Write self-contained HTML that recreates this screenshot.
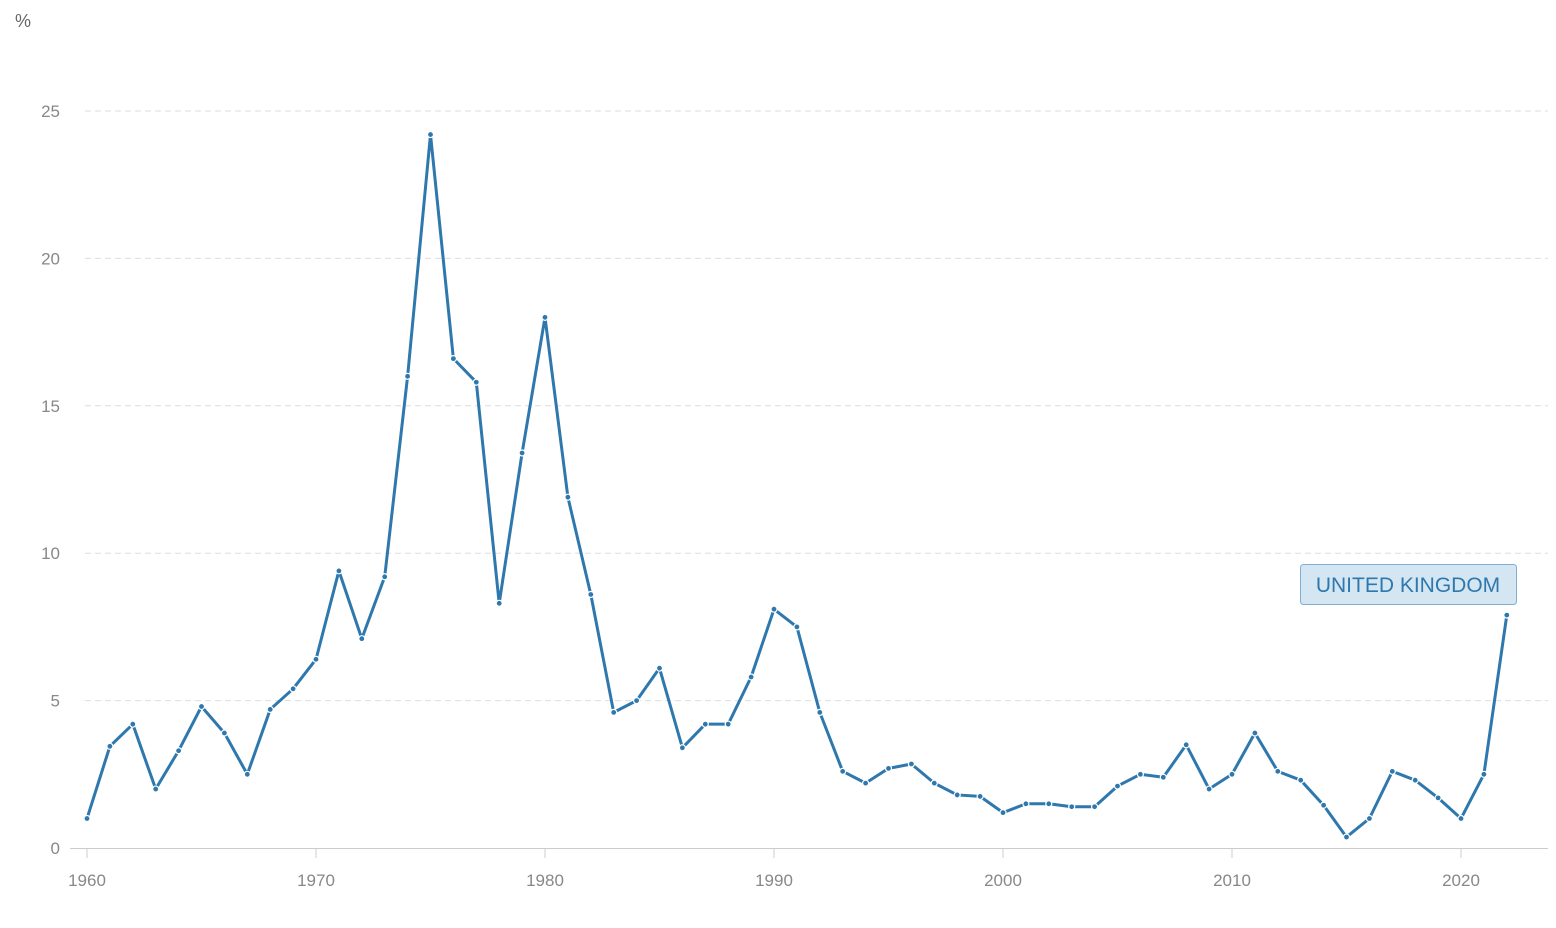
<!DOCTYPE html>
<html><head><meta charset="utf-8"><style>
html,body{margin:0;padding:0;background:#fff;}
svg{display:block;font-family:"Liberation Sans",sans-serif;}
</style></head><body>
<svg id="chart" width="1556" height="928">
<text x="15" y="27" font-size="18" fill="#666">%</text>
<g id="grid"></g><g id="xaxis"></g><g id="series"></g>
<g>
<rect x="1300.5" y="564.5" width="216" height="40" rx="3" fill="#d5e6f3" stroke="#7eafd5"/>
<text x="1408" y="592" font-size="21" fill="#2e78ad" text-anchor="middle">UNITED KINGDOM</text>
</g>
</svg>
<script>
const years=[];for(let y=1960;y<=2022;y++)years.push(y);
const values=[1.0,3.45,4.2,2.0,3.3,4.8,3.9,2.5,4.7,5.4,6.4,9.4,7.1,9.2,16.0,24.2,16.6,15.8,8.3,13.4,18.0,11.9,8.6,4.6,5.0,6.1,3.4,4.2,4.2,5.8,8.1,7.5,4.6,2.6,2.2,2.7,2.85,2.2,1.8,1.75,1.2,1.5,1.5,1.4,1.4,2.1,2.5,2.4,3.5,2.0,2.5,3.9,2.6,2.3,1.45,0.37,1.0,2.6,2.3,1.7,1.0,2.5,7.9];
const yTicks=[0,5,10,15,20,25];
const xTicks=[1960,1970,1980,1990,2000,2010,2020];
const NS="http://www.w3.org/2000/svg";
const X=v=>87+(v-1960)*(1461-87)/60;
const Y=v=>848-v*(848-111)/25;
function mk(t,a,p){const e=document.createElementNS(NS,t);for(const k in a)e.setAttribute(k,a[k]);p.appendChild(e);return e;}
const grid=document.getElementById('grid');
yTicks.forEach(t=>{
  if(t>0){const l=mk('line',{x1:85,x2:1548,y1:Y(t),y2:Y(t),stroke:'#ddd','stroke-dasharray':'6,4'},grid);
  
  }
  const tx=mk('text',{x:60,y:Y(t)+6,'font-size':17,fill:'#888','text-anchor':'end'},grid);tx.textContent=t;
  
  
});
const xa=document.getElementById('xaxis');
const ax=mk('line',{x1:70,x2:1548,y1:848.5,y2:848.5,stroke:'#ccc'},xa);


xTicks.forEach(t=>{
  mk('line',{x1:X(t),x2:X(t),y1:849,y2:858,stroke:'#ccc'},xa);
  const tx=mk('text',{x:X(t),y:886,'font-size':17,fill:'#888','text-anchor':'middle'},xa);tx.textContent=t;
  
  
});
const s=document.getElementById('series');
const p=mk('polyline',{points:years.map((y,i)=>X(y)+','+Y(values[i])).join(' '),fill:'none',stroke:'#2e78ad','stroke-width':3,'stroke-linejoin':'round'},s);


years.forEach((y,i)=>{
  const c=mk('circle',{cx:X(y),cy:Y(values[i]),r:3,fill:'#2e78ad',stroke:'#fff','stroke-width':1.2},s);
  
  
});
</script>
</body></html>
